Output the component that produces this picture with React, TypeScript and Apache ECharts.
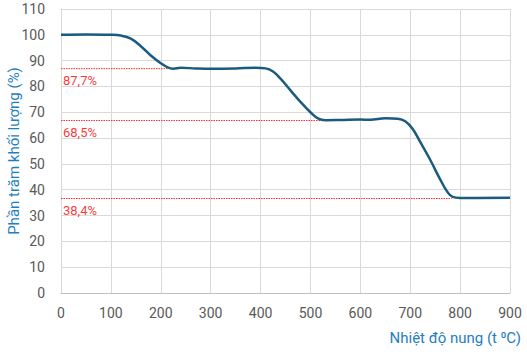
import React, { useEffect, useRef } from "react";
import * as echarts from "echarts";

const temps = [0, 50, 100, 120, 140, 160, 180, 200, 215, 225, 240, 270, 300, 350, 390, 410, 425, 440, 460, 480, 500, 515, 530, 560, 600, 620, 650, 675, 690, 705, 720, 740, 760, 775, 785, 800, 900];
const mass = [100.0, 100.1, 100.0, 99.7, 98.5, 95.6, 92.0, 89.0, 87.3, 86.9, 87.2, 87.0, 86.9, 87.0, 87.2, 87.0, 85.8, 83.0, 78.5, 74.0, 70.0, 67.6, 66.9, 67.0, 67.2, 67.1, 67.7, 67.5, 66.5, 63.5, 58.5, 51.6, 44.0, 39.0, 37.2, 36.8, 36.9];

const refLevels = [86.9, 66.8, 36.6];
const refEnds = [225, 535, 783];
const refLabels = ["87,7%", "68,5%", "38,4%"];

export default function App() {
  const ref = useRef<HTMLDivElement>(null);
  useEffect(() => {
    if (!ref.current) return;
    const chart = echarts.init(ref.current, undefined, { renderer: "svg" });
    const font = "Roboto, 'Noto Sans', sans-serif";
    const refSeries = refLevels.map((lv, i) => ({
      type: "line",
      data: [[0, lv], [refEnds[i], lv]],
      symbol: "none",
      lineStyle: { color: "#ff2a2a", width: 1, type: [1.5, 1] },
      z: 1,
    }));
    const labelSeries = refLevels.map((lv, i) => ({
      type: "scatter",
      data: [[0, lv]],
      symbolSize: 0,
      silent: true,
      label: {
        show: true,
        position: "bottom",
        align: "left",
        distance: 5,
        offset: [2, 0],
        formatter: refLabels[i],
        color: "#ff0000",
        fontSize: 13,
        fontFamily: font,
      },
    }));
    chart.setOption({
      animation: false,
      grid: { left: 61, right: 17, top: 9, bottom: 61, outerBoundsMode: "none", containLabel: false },
      xAxis: {
        type: "value",
        min: 0,
        max: 900,
        interval: 100,
        axisLine: { show: true, lineStyle: { color: "#bfbfbf" } },
        axisTick: { show: false },
        axisLabel: { color: "#595959", fontSize: 14, fontFamily: font, margin: 13 },
        splitLine: { show: true, lineStyle: { color: "#d9d9d9" } },
      },
      yAxis: {
        type: "value",
        min: 0,
        max: 110,
        interval: 10,
        name: "Phần trăm khối lượng (%)",
        nameLocation: "middle",
        nameGap: 40,
        nameMoveOverlap: false,
        nameTextStyle: { color: "#1f7ec0", fontSize: 15, fontFamily: font },
        axisLine: { show: true, lineStyle: { color: "#d9d9d9" } },
        axisTick: { show: false },
        axisLabel: { color: "#595959", fontSize: 14, fontFamily: font, margin: 16 },
        splitLine: { show: true, lineStyle: { color: "#d9d9d9" } },
      },
      graphic: [
        {
          type: "text",
          right: 6,
          top: 330,
          style: {
            text: "Nhiệt độ nung (t ⁰C)",
            fill: "#1f7ec0",
            fontSize: 15,
            fontFamily: font,
          },
        },
      ],
      series: [
        ...refSeries,
        ...labelSeries,
        {
          type: "line",
          data: temps.map((t, i) => [t, mass[i]]),
          smooth: 0.4,
          symbol: "none",
          lineStyle: { color: "#1a5b80", width: 2.5 },
          z: 3,
        },
      ],
    });
    return () => chart.dispose();
  }, []);
  return <div ref={ref} style={{ width: 527, height: 354, position: "absolute", left: 0, top: 0 }} />;
}
